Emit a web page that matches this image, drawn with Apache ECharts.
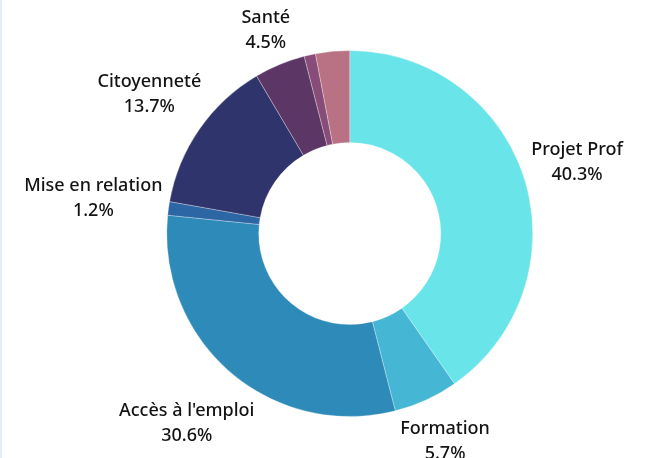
<!DOCTYPE html>
<html>
<head>
<meta charset="utf-8">
<script src="https://cdn.jsdelivr.net/npm/echarts@6/dist/echarts.min.js"></script>
<style>
  html, body { margin: 0; padding: 0; background: #fff; }
  #chart { width: 646px; height: 458px; box-sizing: border-box; border-left: 2px solid #e6edf7; }
</style>
</head>
<body>
<div id="chart"></div>
<script>
// Répartition par thématique
const categories = ['Projet Prof', 'Formation', "Accès à l'emploi", 'Mise en relation', 'Citoyenneté', 'Santé', 'Logement', 'Mobilité'];
const values = [40.3, 5.7, 30.6, 1.2, 13.7, 4.5, 1.0, 3.0];
const colors = ['#69e4e8', '#45b7d5', '#2e8bb9', '#2d66a5', '#2f346c', '#5c3765', '#874d78', '#b87284'];
const hiddenLabels = ['Logement', 'Mobilité'];

const CENTER = ['54%', '51%'];
const R_IN = 91, R_OUT = 183, GAP = 4;

const chart = echarts.init(document.getElementById('chart'));
const total = values.reduce((a, b) => a + b, 0);

// place each label centred on the slice's mid direction, just outside the ring
function placeLabel(params) {
    const i = params.dataIndex;
    let before = 0;
    for (let k = 0; k < i; k++) before += values[k];
    const theta = (before + values[i] / 2) / total * Math.PI * 2;
    const dx = Math.sin(theta), dy = -Math.cos(theta);
    const cx = chart.getWidth() * parseFloat(CENTER[0]) / 100;
    const cy = chart.getHeight() * parseFloat(CENTER[1]) / 100;
    const w = params.labelRect.width, h = params.labelRect.height;
    const ext = w / 2 * Math.abs(dx) + h / 2 * Math.abs(dy);
    const d = R_OUT + GAP + ext;
    return { x: cx + dx * d, y: cy + dy * d, align: 'center', verticalAlign: 'middle' };
}

const pieData = categories.map((name, i) => ({
    name,
    value: values[i],
    itemStyle: { color: colors[i] },
    label: { show: !hiddenLabels.includes(name) }
}));

chart.setOption({
    animation: false,
    series: [{
        type: 'pie',
        center: CENTER,
        radius: [R_IN, R_OUT],
        startAngle: 90,
        clockwise: true,
        data: pieData,
        itemStyle: { borderColor: 'rgba(255,255,255,0.6)', borderWidth: 0.5 },
        label: {
            position: 'outside',
            formatter: (p) => p.name + '\n' + p.value.toFixed(1) + '%',
            fontFamily: 'Noto Sans',
            fontSize: 18,
            fontWeight: 500,
            lineHeight: 25,
            color: '#141414',
            align: 'center'
        },
        labelLine: { show: false, length: 0, length2: 0 },
        labelLayout: placeLabel,
        emphasis: { disabled: true }
    }]
});
</script>
</body>
</html>
